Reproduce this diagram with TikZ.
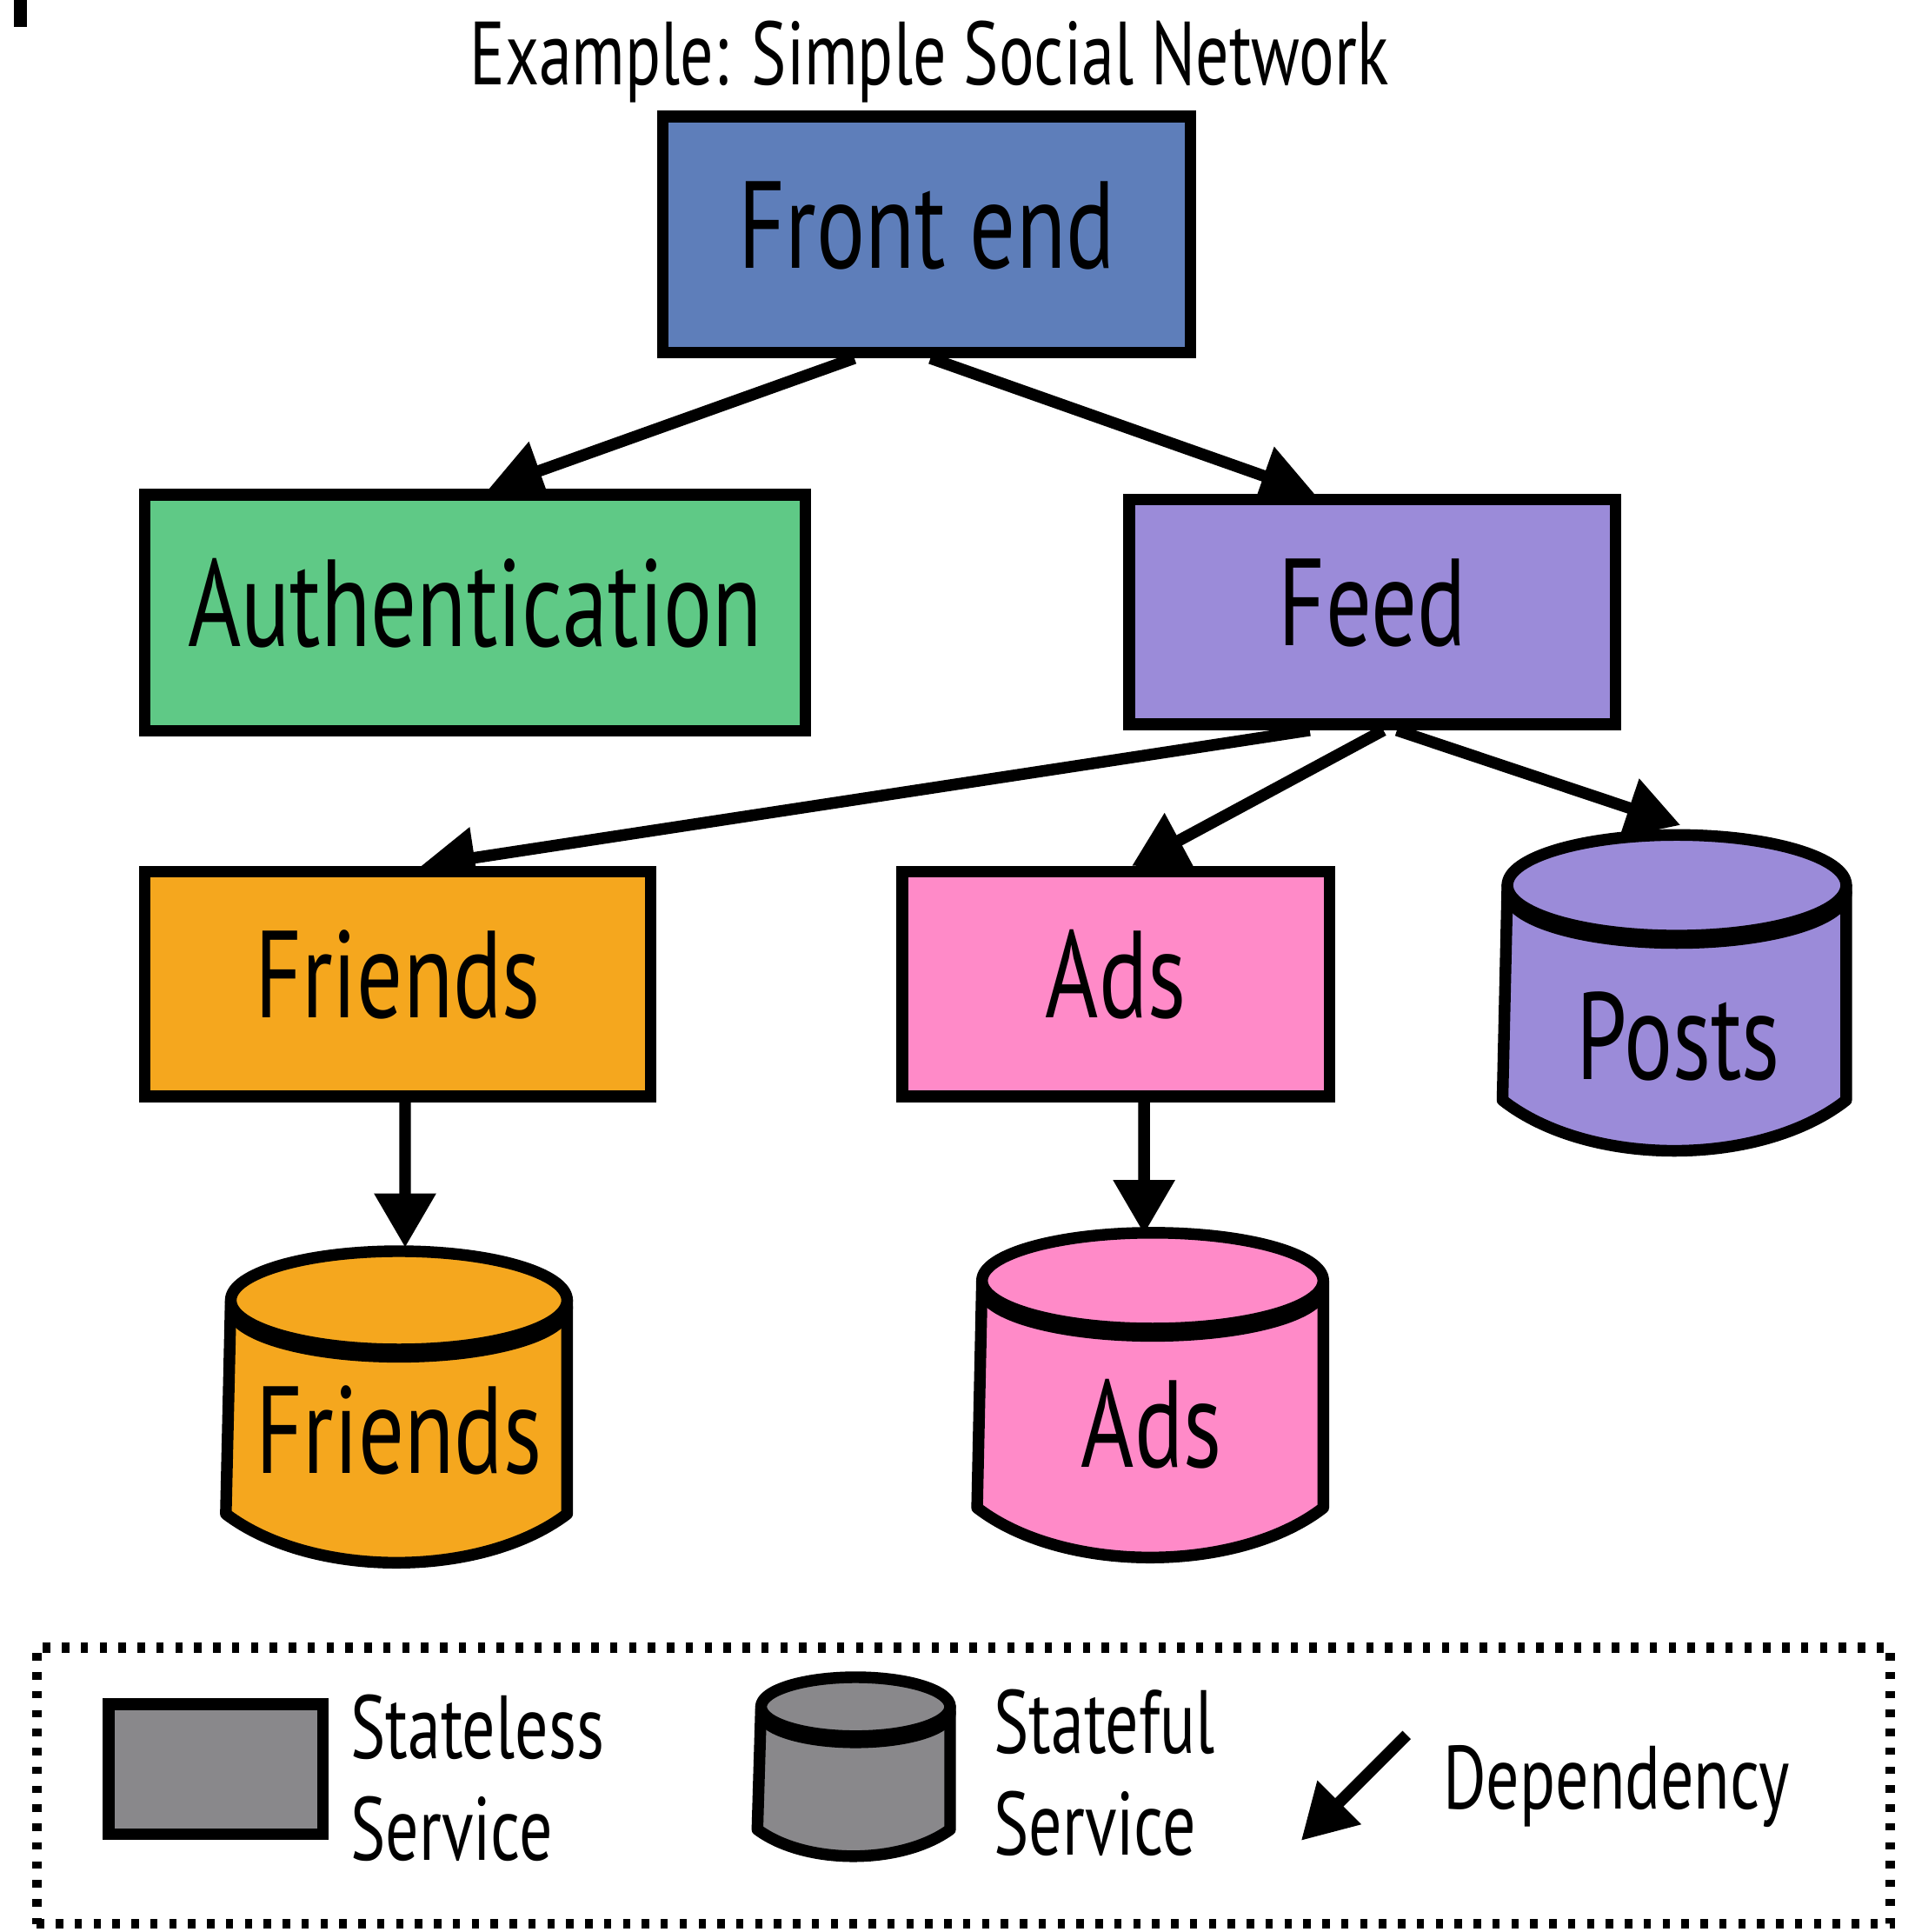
\documentclass[tikz,border=0pt]{standalone}
\usepackage{fontspec}
\setmainfont{PT Sans}[FakeStretch=0.735]
\usetikzlibrary{arrows.meta,backgrounds}

\definecolor{frontc}{HTML}{5E7EBA}
\definecolor{authc}{HTML}{5FC986}
\definecolor{feedc}{HTML}{9B8BD9}
\definecolor{friendc}{HTML}{F5A71E}
\definecolor{adsc}{HTML}{FF8AC8}
\definecolor{legc}{HTML}{89888B}

\begin{document}
\begin{tikzpicture}[x=0.1mm, y=-0.1mm,
    svc/.style={draw, line width=0.95mm, inner sep=0pt, font=\fontsize{28.7pt}{30pt}\selectfont, text height=7.1mm, text depth=1.6mm},
    lbl/.style={inner sep=0pt, font=\fontsize{28.7pt}{30pt}\selectfont},
    legtext/.style={inner sep=0pt, font=\fontsize{20.8pt}{24pt}\selectfont},
    cyl/.style={draw, line width=0.95mm, line join=round},
    dep/.style={line width=0.95mm, -{Triangle[length=4.4mm, width=4.8mm]}},
    legframe/.style={draw, line width=0.8mm, dash pattern=on 0.6mm off 0.94mm, minimum width=151mm, minimum height=22.5mm}]

	\useasboundingbox (0,0) rectangle (1560,1573.5);
	\fill (11,0) rectangle (22,22);

	\node[legtext, anchor=base] (title) at (757,69) {Example: Simple Social Network};

	% stateless services
	\node[svc, fill=frontc, minimum width=43mm, minimum height=19.2mm] (front) at (755,191) {Front end};
	\node[svc, fill=authc, minimum width=53.8mm, minimum height=19.2mm] (auth) at (387,499) {Authentication};
	\node[svc, fill=feedc, minimum width=39.6mm, minimum height=18.3mm] (feed) at (1118,498.5) {Feed};
	\node[svc, fill=friendc, minimum width=41.2mm, minimum height=18.3mm] (friends) at (324,801.5) {Friends};
	\node[svc, fill=adsc, minimum width=34.8mm, minimum height=18.3mm] (ads) at (909,801.5) {Ads};

	% stateful services
	\filldraw[cyl, fill=feedc] (1228,721) -- (1224,896) .. controls (1294,951) and (1434,951) .. (1504,896) -- (1504,721) -- cycle;
	\filldraw[cyl, fill=black] (1366,727) ellipse [x radius=138, y radius=41];
	\filldraw[cyl, fill=feedc] (1366,721) ellipse [x radius=138, y radius=41];
	\node[lbl, anchor=base] (posts) at (1367,879) {Posts};

	\filldraw[cyl, fill=friendc] (188,1059) -- (184,1233) .. controls (254,1286) and (392,1286) .. (462,1233) -- (462,1059) -- cycle;
	\filldraw[cyl, fill=black] (325,1065) ellipse [x radius=137, y radius=40];
	\filldraw[cyl, fill=friendc] (325,1059) ellipse [x radius=137, y radius=40];
	\node[lbl, anchor=base] (friendsdb) at (325,1200) {Friends};

	\filldraw[cyl, fill=adsc] (800,1043) -- (796,1228) .. controls (866,1282) and (1008,1282) .. (1078,1228) -- (1078,1043) -- cycle;
	\filldraw[cyl, fill=black] (939,1049) ellipse [x radius=139, y radius=39];
	\filldraw[cyl, fill=adsc] (939,1043) ellipse [x radius=139, y radius=39];
	\node[lbl, anchor=base] (adsdb) at (938,1195) {Ads};

	\coordinate (postsIn) at (1369,672);
	\coordinate (friendsdbIn) at (330,1016);
	\coordinate (adsdbIn) at (932,1005);

	% dependencies
	\begin{scope}[on background layer]
		\draw[dep] ([xshift=-5.9mm]front.south) -- ([xshift=1.1mm]auth.north);
		\draw[dep] ([xshift=0.3mm]front.south) -- ([xshift=-4.7mm]feed.north);
		\draw[dep] ([xshift=-5.1mm]feed.south) -- ([xshift=1.9mm]friends.north);
		\draw[dep] ([xshift=0.9mm]feed.south) -- ([xshift=1.3mm]ads.north);
		\draw[dep] ([xshift=2mm]feed.south) -- (postsIn);
		\draw[dep] ([xshift=0.6mm]friends.south) -- (friendsdbIn);
		\draw[dep] ([xshift=2.3mm]ads.south) -- (adsdbIn);
	\end{scope}

	% legend
	\node[legframe] (legend) at (785,1454.5) {};
	\node[svc, fill=legc, minimum width=17.45mm, minimum height=10.6mm] (legbox) at (175.75,1441) {};
	\node[legtext, anchor=base west] (stateless) at (285,1432) {Stateless};
	\node[legtext, anchor=base west] (statelessB) at (285,1515) {Service};

	\filldraw[cyl, fill=legc] (620,1390) -- (617,1490) .. controls (656,1519) and (734,1519) .. (774,1490) -- (774,1390) -- cycle;
	\filldraw[cyl, fill=black] (697,1395) ellipse [x radius=77, y radius=24];
	\filldraw[cyl, fill=legc] (697,1390) ellipse [x radius=77, y radius=24];
	\node[legtext, anchor=base west] (stateful) at (809,1428) {Stateful};
	\node[legtext, anchor=base west] (statefulB) at (809,1511) {Service};

	\coordinate (depFrom) at (1146,1413);
	\coordinate (depTo) at (1060,1499);
	\draw[dep] (depFrom) -- (depTo);
	\node[legtext, anchor=base west] (dependency) at (1175,1473) {Dependency};

\end{tikzpicture}
\end{document}
